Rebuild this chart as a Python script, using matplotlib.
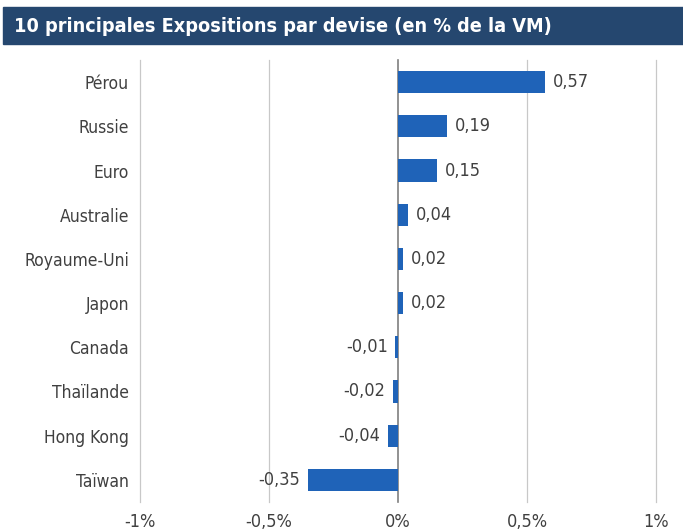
import matplotlib.pyplot as plt
from matplotlib.patches import Rectangle

plt.rcParams['font.family'] = ['DejaVu Sans']
plt.rcParams['font.stretch'] = 'condensed'

devises = ["Pérou", "Russie", "Euro", "Australie", "Royaume-Uni", "Japon",
           "Canada", "Thaïlande", "Hong Kong", "Taïwan"]
valeurs = [0.57, 0.19, 0.15, 0.04, 0.02, 0.02, -0.01, -0.02, -0.04, -0.35]
ticks = [-1, -0.5, 0, 0.5, 1]
tick_labels = ["-1%", "-0,5%", "0%", "0,5%", "1%"]

fig = plt.figure(figsize=(6.83, 5.30), dpi=100)

# bandeau du titre
fig.patches.append(Rectangle((3 / 683, 1 - 44 / 530), 1, 37 / 530,
                             transform=fig.transFigure, color="#25476f", zorder=0))
fig.text(14 / 683, 1 - 26 / 530, "10 principales Expositions par devise (en % de la VM)",
         color="white", fontsize=14.2, fontweight="bold", va="center", ha="left")

ax = fig.add_axes([140 / 683, 1 - 502 / 530, 516 / 683, 442 / 530])
y = list(range(len(devises)))
ax.barh(y, valeurs, height=0.5, color="#1f63b8", zorder=3)
ax.set_ylim(len(devises) - 0.5, -0.5)
ax.set_xlim(-1, 1)
ax.set_yticks(y)
ax.set_yticklabels(devises, fontsize=12.5, color="#404040")
ax.set_xticks(ticks)
ax.set_xticklabels(tick_labels, fontsize=13, color="#404040")
ax.tick_params(length=0)
ax.tick_params(axis="y", pad=8)
ax.tick_params(axis="x", pad=8)

for t in ticks:
    ax.axvline(t, color="#7f7f7f" if t == 0 else "#c8c8c8", lw=1.2 if t == 0 else 0.9,
               zorder=2, clip_on=False)

for yi, v in zip(y, valeurs):
    txt = f"{v:.2f}".replace(".", ",")
    if v >= 0:
        ax.text(v + 0.03, yi, txt, va="center", ha="left", fontsize=13, color="#404040")
    else:
        ax.text(v - 0.03, yi, txt, va="center", ha="right", fontsize=13, color="#404040")

for s in ax.spines.values():
    s.set_visible(False)

fig.savefig("out.png", dpi=100)
